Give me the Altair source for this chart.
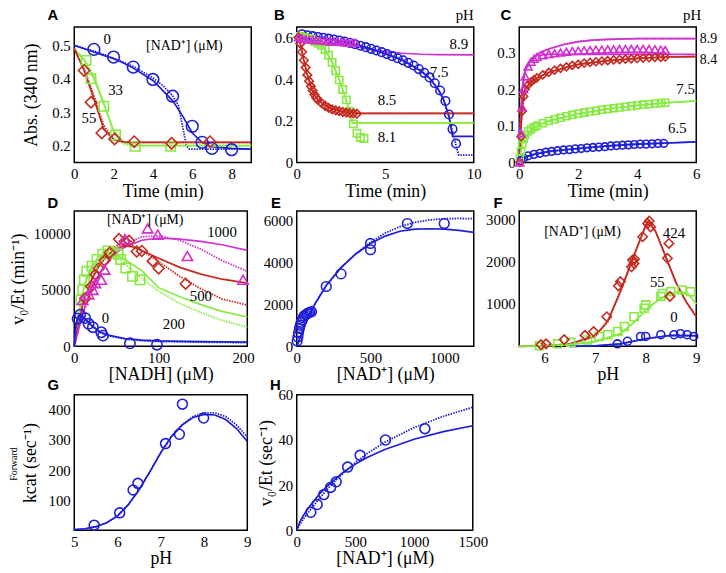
import altair as alt
import pandas as pd

BLUE = "#1f1fd8"
RED = "#c42a20"
GREEN = "#86ea42"
MAG = "#d22fd2"
SERIF = "Liberation Serif"

# ---------------- Panel A ----------------
A_blue_t = [1.0, 2.0, 3.0, 4.0, 5.0, 6.0, 6.5, 7.0, 8.0]
A_blue_abs = [0.488, 0.465, 0.435, 0.398, 0.348, 0.258, 0.21, 0.192, 0.188]
A_green_t = [0.6, 0.85, 1.5, 2.1, 3.1, 4.9]
A_green_abs = [0.455, 0.40, 0.318, 0.232, 0.198, 0.198]
A_red_t = [0.5, 0.85, 1.4, 2.05, 3.05, 4.95, 6.9]
A_red_abs = [0.425, 0.33, 0.238, 0.22, 0.212, 0.207, 0.212]
A_bfit_t = [0, 0.5, 1, 1.5, 2, 2.5, 3, 4, 5, 5.5, 6, 6.5, 7, 8, 9]
A_bfit = [0.50, 0.49, 0.48, 0.47, 0.46, 0.447, 0.432, 0.395, 0.335, 0.29, 0.238, 0.21, 0.197, 0.192, 0.19]
A_bfit2_t = [0, 1, 2, 3, 4, 4.5, 5, 5.3, 5.5, 5.7, 5.85, 7, 8, 9]
A_bfit2 = [0.50, 0.483, 0.462, 0.437, 0.403, 0.38, 0.35, 0.32, 0.26, 0.2, 0.19, 0.19, 0.19, 0.19]
A_fit_t = [0, 0.5, 1, 1.5, 2, 2.5, 3, 9]
A_gfit = [0.49, 0.455, 0.40, 0.325, 0.245, 0.21, 0.201, 0.20]
A_gfit2 = [0.49, 0.46, 0.41, 0.33, 0.24, 0.205, 0.20, 0.20]
A_rfit = [0.49, 0.425, 0.34, 0.25, 0.218, 0.211, 0.21, 0.21]
A_rfit2 = [0.49, 0.43, 0.35, 0.26, 0.22, 0.212, 0.21, 0.21]

# ---------------- Panel B ----------------
B_blue_t = [0.3, 0.6, 0.9, 1.2, 1.5, 1.8, 2.1, 2.4, 2.7, 3.0, 3.3, 3.6, 3.9, 4.2, 4.5, 4.8,
            5.1, 5.4, 5.7, 6.0, 6.3, 6.6, 6.9, 7.2, 7.5, 7.8, 8.1, 8.4, 8.6, 8.8, 9.0]
B_blue_abs = [0.615, 0.61, 0.606, 0.602, 0.598, 0.594, 0.59, 0.585, 0.58, 0.574, 0.567, 0.56,
              0.553, 0.545, 0.537, 0.529, 0.52, 0.51, 0.5, 0.49, 0.478, 0.465, 0.448, 0.43,
              0.408, 0.38, 0.345, 0.295, 0.23, 0.16, 0.09]
B_bfit_t = [0, 1, 2, 3, 4, 5, 6, 7, 7.5, 8, 8.3, 8.6, 8.75, 8.8, 10]
B_bfit = [0.62, 0.605, 0.59, 0.572, 0.55, 0.522, 0.49, 0.44, 0.405, 0.35, 0.3, 0.22, 0.15, 0.125, 0.125]
B_bfit2_t = [0, 1, 2, 3, 4, 5, 6, 7, 7.5, 8, 8.3, 8.6, 8.8, 9.0, 9.15, 10]
B_bfit2 = [0.62, 0.605, 0.59, 0.572, 0.55, 0.522, 0.49, 0.44, 0.405, 0.35, 0.3, 0.22, 0.15, 0.08, 0.035, 0.035]
B_mag_t = [0.1, 0.3, 0.5, 0.7, 0.9, 1.1, 1.3, 1.5, 1.7, 1.9, 2.1, 2.3, 2.5, 2.7, 2.9, 3.1, 3.3]
B_mag_abs = [0.6, 0.595, 0.592, 0.59, 0.588, 0.586, 0.585, 0.583, 0.582, 0.58, 0.579, 0.578,
             0.577, 0.576, 0.575, 0.575, 0.575]
B_mfit_t = [0, 0.5, 1, 2, 3, 4, 5, 6, 7, 8, 10]
B_mfit = [0.6, 0.59, 0.582, 0.57, 0.562, 0.545, 0.532, 0.524, 0.519, 0.517, 0.516]
B_red_t = [0.1, 0.2, 0.3, 0.4, 0.5, 0.6, 0.7, 0.8, 0.9, 1.0, 1.1, 1.2, 1.4, 1.6, 1.8, 2.0,
           2.2, 2.4, 2.6, 2.8, 3.0, 3.2, 3.4]
B_red_abs = [0.6, 0.57, 0.53, 0.49, 0.455, 0.42, 0.39, 0.365, 0.345, 0.325, 0.31, 0.3, 0.285,
             0.272, 0.262, 0.255, 0.25, 0.246, 0.242, 0.239, 0.237, 0.235, 0.234]
B_rfit_t = [0, 0.2, 0.4, 0.6, 0.8, 1.0, 1.2, 1.5, 2, 2.5, 3, 3.4, 10]
B_rfit = [0.6, 0.57, 0.49, 0.42, 0.365, 0.325, 0.3, 0.28, 0.257, 0.245, 0.238, 0.235, 0.235]
B_green_t = [0.2, 0.4, 0.6, 0.8, 1.0, 1.2, 1.4, 1.6, 1.8, 2.0, 2.2, 2.4, 2.6, 2.8, 3.0, 3.2, 3.4, 3.6, 3.8]
B_green_abs = [0.605, 0.6, 0.595, 0.59, 0.58, 0.572, 0.562, 0.542, 0.515, 0.48, 0.44, 0.395,
               0.35, 0.3, 0.245, 0.185, 0.14, 0.12, 0.115]
B_gfit_t = [0, 0.5, 1, 1.5, 2, 2.5, 3, 3.15, 10]
B_gfit = [0.61, 0.598, 0.58, 0.555, 0.48, 0.375, 0.245, 0.19, 0.19]

# ---------------- Panel C ----------------
C_t = [0.02, 0.06, 0.1, 0.15, 0.2, 0.3, 0.4, 0.5, 0.6, 0.8, 1.0, 1.2, 1.4, 1.6, 1.8, 2.0,
       2.2, 2.4, 2.6, 2.8, 3.0, 3.2, 3.4, 3.6, 3.8, 4.0, 4.2, 4.4, 4.6, 4.8, 4.95]
C_mag = [0.0, 0.08, 0.15, 0.2, 0.235, 0.262, 0.275, 0.283, 0.288, 0.293, 0.296, 0.298, 0.3,
         0.302, 0.304, 0.305, 0.306, 0.307, 0.308, 0.308, 0.309, 0.309, 0.31, 0.31, 0.31, 0.31,
         0.31, 0.31, 0.309, 0.308, 0.307]
C_red = [0.0, 0.07, 0.14, 0.18, 0.2, 0.212, 0.22, 0.226, 0.231, 0.239, 0.246, 0.252, 0.257,
         0.261, 0.265, 0.268, 0.271, 0.273, 0.275, 0.277, 0.278, 0.28, 0.281, 0.282, 0.283,
         0.284, 0.285, 0.286, 0.287, 0.287, 0.288]
C_green = [0.01, 0.03, 0.05, 0.065, 0.075, 0.085, 0.091, 0.096, 0.1, 0.107, 0.113, 0.118,
           0.122, 0.126, 0.13, 0.133, 0.136, 0.139, 0.141, 0.144, 0.146, 0.148, 0.15, 0.152,
           0.154, 0.156, 0.158, 0.159, 0.161, 0.162, 0.163]
C_blue_t = [0.05, 0.15, 0.3, 0.5, 0.7, 0.9, 1.1, 1.3, 1.5, 1.7, 1.9, 2.1, 2.3, 2.5, 2.7, 2.9,
            3.1, 3.3, 3.5, 3.7, 3.9, 4.1, 4.3, 4.5, 4.7, 4.9]
C_blue = [0.005, 0.012, 0.018, 0.022, 0.025, 0.028, 0.03, 0.032, 0.034, 0.035, 0.037, 0.038,
          0.04, 0.041, 0.042, 0.043, 0.045, 0.046, 0.047, 0.048, 0.049, 0.05, 0.05, 0.051,
          0.052, 0.052]
C_mfit_t = [0, 0.05, 0.1, 0.2, 0.4, 0.7, 1, 1.5, 2, 2.5, 3, 4, 6]
C_mfit = [0, 0.12, 0.2, 0.25, 0.28, 0.3, 0.31, 0.322, 0.33, 0.334, 0.336, 0.338, 0.338]
C_mfit2_t = [0, 0.05, 0.1, 0.2, 0.4, 0.6, 1, 6]
C_mfit2 = [0, 0.12, 0.2, 0.255, 0.283, 0.292, 0.295, 0.295]
C_rfit_t = [0, 0.05, 0.1, 0.2, 0.4, 0.7, 1, 1.5, 2, 3, 4, 5, 6]
C_rfit = [0, 0.08, 0.15, 0.2, 0.22, 0.235, 0.246, 0.258, 0.268, 0.278, 0.284, 0.288, 0.289]
C_gfit_t = [0, 0.1, 0.2, 0.5, 1, 2, 3, 4, 5, 6]
C_gfit = [0, 0.05, 0.07, 0.095, 0.113, 0.133, 0.146, 0.156, 0.163, 0.168]
C_bfit_t = [0, 0.2, 0.5, 1, 2, 3, 4, 5, 6]
C_bfit = [0, 0.015, 0.022, 0.03, 0.038, 0.045, 0.05, 0.053, 0.056]

# ---------------- Panel D ----------------
D_blue_x = [4, 7, 13, 17, 22, 32, 34, 66, 98]
D_blue_y = [2450, 2800, 2500, 2000, 1700, 1250, 950, 270, 150]
D_green_x = [8, 10, 12, 15, 21, 27, 34, 40, 46, 52, 55, 61, 69, 78]
D_green_y = [4100, 5000, 5900, 6650, 7100, 7700, 8150, 8450, 8300, 8150, 7700, 6950, 6200, 5900]
D_red_x = [13, 20, 25, 29, 36, 42, 53, 60, 65, 74, 80, 93, 100, 132]
D_red_y = [4250, 5300, 6350, 6900, 7600, 8300, 9500, 9300, 9350, 8400, 8450, 7550, 6900, 5550]
D_mag_x = [10, 17, 22, 25, 32, 36, 60, 87, 99, 134, 200]
D_mag_y = [4100, 4600, 5000, 5600, 5900, 6800, 9500, 10450, 9900, 8000, 5900]
D_gfit_x = [0, 5, 10, 15, 20, 30, 40, 50, 60, 80, 100, 125, 150, 175, 205]
D_gfit = [0, 2700, 4700, 6000, 6900, 7900, 8200, 8100, 7700, 6700, 5200, 4400, 3700, 3100, 2600]
D_gfit2 = [0, 2700, 4800, 6200, 7100, 8100, 8300, 8000, 7300, 6000, 4900, 3800, 3000, 2300, 1700]
D_rfit_x = [0, 10, 20, 30, 40, 50, 60, 70, 80, 100, 125, 150, 175, 205]
D_rfit = [0, 3700, 5800, 7200, 8100, 8700, 8900, 8800, 8500, 7800, 7000, 6400, 5950, 5600]
D_rfit2 = [0, 3700, 5900, 7400, 8400, 8900, 9100, 8900, 8500, 7500, 6200, 5100, 4200, 3650]
D_mfit_x = [0, 10, 20, 30, 40, 50, 60, 80, 100, 125, 150, 175, 205]
D_mfit = [0, 3000, 5000, 6500, 7500, 8300, 8800, 9400, 9600, 9500, 9300, 9000, 8500]
D_mfit2 = [0, 2800, 4800, 6400, 7600, 8500, 9100, 9700, 9800, 9400, 8600, 7600, 6650]
D_bfit_x = [0, 2, 5, 8, 12, 20, 30, 40, 60, 80, 100, 150, 205]
D_bfit = [0, 2000, 2700, 2800, 2500, 1900, 1300, 1000, 700, 550, 480, 420, 380]
D_bfit2 = [0, 1900, 2650, 2750, 2450, 1850, 1250, 950, 650, 500, 430, 370, 330]

# ---------------- Panel E ----------------
E_x = [3, 8, 12, 18, 24, 30, 36, 42, 50, 60, 70, 80, 90, 100, 200, 300, 500, 500, 750, 1000]
E_y = [250, 450, 650, 850, 1000, 1150, 1250, 1350, 1450, 1500, 1550, 1600, 1620, 1650,
       2850, 3450, 4600, 4900, 5850, 5850]
E_fit_x = [0, 50, 100, 200, 300, 400, 500, 600, 700, 800, 900, 1000, 1100, 1200]
E_fit = [0, 950, 1750, 2900, 3750, 4400, 4900, 5250, 5480, 5580, 5600, 5580, 5520, 5430]
E_fit2 = [0, 950, 1750, 2900, 3750, 4400, 4950, 5400, 5700, 5900, 6020, 6080, 6090, 6080]

# ---------------- Panel F ----------------
F_red_x = [5.93, 6.03, 6.39, 6.8, 6.97, 7.23, 7.46, 7.5, 7.72, 7.74, 7.77, 7.78, 7.94, 8.04,
           8.07, 8.1, 8.43, 8.46, 8.48]
F_red_y = [40, 60, 160, 260, 350, 700, 1430, 1530, 1880, 2040, 1960, 2060, 2590, 2900, 2960,
           2820, 2080, 2430, 1180]
F_green_x = [5.9, 6.26, 6.52, 6.85, 7.08, 7.25, 7.45, 7.58, 7.77, 7.97, 8.0, 8.3, 8.33, 8.5, 8.72, 8.89]
F_green_y = [15, 60, 95, 150, 235, 275, 350, 470, 700, 900, 980, 1180, 1250, 1290, 1330, 1290]
F_blue_x = [7.44, 7.64, 7.9, 8.0, 8.3, 8.56, 8.69, 8.82, 8.95]
F_blue_y = [60, 120, 235, 235, 275, 275, 300, 275, 235]
F_rfit_x = [5.5, 6, 6.5, 7, 7.25, 7.5, 7.75, 8, 8.05, 8.2, 8.4, 8.6, 8.8, 9]
F_rfit = [0, 15, 60, 250, 600, 1300, 2100, 2850, 2950, 2700, 2100, 1500, 1050, 700]
F_rfit2 = [0, 10, 50, 230, 580, 1280, 2080, 2850, 2970, 2720, 2120, 1520, 1060, 720]
F_gfit_x = [5.5, 6, 6.5, 7, 7.5, 7.75, 8, 8.25, 8.5, 8.7, 8.85, 9]
F_gfit = [5, 15, 40, 110, 300, 550, 850, 1100, 1250, 1290, 1230, 1000]
F_bfit_x = [6.5, 7, 7.5, 8, 8.5, 9]
F_bfit = [0, 10, 60, 180, 260, 250]

# ---------------- Panel G ----------------
G_x = [5.46, 6.05, 6.36, 6.47, 7.11, 7.43, 7.5, 7.99]
G_y = [17, 58, 134, 156, 288, 319, 419, 373]
G_fit_x = [5, 5.25, 5.5, 5.75, 6, 6.25, 6.5, 6.75, 7, 7.25, 7.5, 7.75, 8, 8.25, 8.5, 8.75, 9]
G_fit = [2, 5, 12, 25, 48, 85, 135, 195, 258, 312, 350, 375, 385, 383, 368, 338, 295]
G_fit2 = [2, 5, 12, 25, 48, 85, 135, 195, 258, 312, 352, 378, 390, 390, 378, 350, 310]

# ---------------- Panel H ----------------
H_x = [120, 174, 230, 288, 336, 434, 540, 756, 1092]
H_y = [8, 11.4, 15.8, 19, 21.5, 28, 33.2, 40, 45]
H_fit_x = [0, 25, 50, 100, 200, 300, 400, 500, 600, 750, 1000, 1250, 1500]
H_fit = [0, 3.5, 6, 10, 16.5, 21.5, 25.8, 29.3, 32.2, 35.8, 40.3, 43.7, 46.3]
H_fit2 = [0, 2.5, 4.5, 8, 14.5, 20.5, 25.5, 30, 34, 39, 45.5, 50.5, 54.5]


def df(xs, ys):
    return pd.DataFrame({"x": xs, "y": ys})


def label(txt, px, py, align="left", font=SERIF, size=15, weight="normal", angle=0):
    return alt.Chart(pd.DataFrame({"t": [txt]})).mark_text(
        font=font, fontSize=size, fontWeight=weight, color="black", align=align,
        baseline="alphabetic", angle=angle
    ).encode(x=alt.value(px), y=alt.value(py), text="t:N")


def panel(series, texts, xdom, ydom, xaxis, yaxis, w, h, extras):
    X = alt.X("x:Q", scale=alt.Scale(domain=xdom, nice=False, zero=False), axis=xaxis)
    Y = alt.Y("y:Q", scale=alt.Scale(domain=ydom, nice=False, zero=False), axis=yaxis)
    layers = []
    for s in series:
        kind, xs, ys, color = s[0], s[1], s[2], s[3]
        base = alt.Chart(df(xs, ys))
        if kind == "solid":
            m = base.mark_line(strokeWidth=1.7)
        elif kind == "dot":
            m = base.mark_line(strokeWidth=1.8, strokeDash=[1.5, 1.2])
        else:
            m = base.mark_point(shape=kind, filled=False, size=s[4], strokeWidth=1.6, opacity=1)
        layers.append(m.encode(color=alt.value(color)))
    for t in texts:
        txt, tx, ty, align, size = t
        layers.append(
            alt.Chart(pd.DataFrame({"x": [tx], "y": [ty], "t": [txt]}))
            .mark_text(font=SERIF, fontSize=size, color="black", align=align, baseline="middle")
            .encode(text="t:N")
        )
    layers.extend(extras)
    return alt.layer(*layers).encode(x=X, y=Y).properties(width=w, height=h)


def ax(values, fmt, title=None, pad=1):
    return alt.Axis(values=values, format=fmt, labelOverlap=False, labelFlush=False,
                    titlePadding=pad, title=title, titleFont=SERIF, titleFontSize=18,
                    titleFontWeight="normal", titleColor="black",
                    labelFont=SERIF, labelFontSize=15, labelFontWeight="normal")


def letter(ch, dx, dy):
    return label(ch, dx, dy, font="Liberation Sans", size=15, weight="bold")


A = panel(
    [("solid", A_bfit_t, A_bfit, BLUE), ("dot", A_bfit2_t, A_bfit2, BLUE),
     ("solid", A_fit_t, A_gfit, GREEN), ("dot", A_fit_t, A_gfit2, GREEN),
     ("solid", A_fit_t, A_rfit, RED), ("dot", A_fit_t, A_rfit2, RED),
     ("circle", A_blue_t, A_blue_abs, BLUE, 140),
     ("square", A_green_t, A_green_abs, GREEN, 90),
     ("diamond", A_red_t, A_red_abs, RED, 130)],
    [("0", 1.67, 0.52, "center", 15), ("[NAD⁺] (μM)", 5.6, 0.497, "center", 14),
     ("33", 2.1, 0.366, "center", 15), ("55", 0.75, 0.284, "center", 15)],
    [0, 9], [0.15, 0.555],
    ax([0, 2, 4, 6, 8], "d", "Time (min)"), ax([0.2, 0.3, 0.4, 0.5], ".1f", "Abs. (340 nm)", 11),
    179, 137, [letter("A", -27, -7)])

B = panel(
    [("solid", B_mfit_t, B_mfit, MAG),
     ("solid", B_bfit_t, B_bfit, BLUE), ("dot", B_bfit2_t, B_bfit2, BLUE),
     ("solid", B_rfit_t, B_rfit, RED), ("dot", B_rfit_t, B_rfit, RED),
     ("solid", B_gfit_t, B_gfit, GREEN), ("dot", B_gfit_t, B_gfit, GREEN),
     ("circle", B_blue_t, B_blue_abs, BLUE, 75),
     ("square", B_green_t, B_green_abs, GREEN, 55),
     ("diamond", B_red_t, B_red_abs, RED, 75),
     ("triangle-up", B_mag_t, B_mag_abs, MAG, 60)],
    [("8.9", 9.16, 0.57, "center", 15), ("7.5", 8.04, 0.432, "center", 15),
     ("8.5", 5.1, 0.297, "center", 15), ("8.1", 5.1, 0.122, "center", 15)],
    [0, 10], [0, 0.65],
    ax([0, 5, 10], "d", "Time (min)"), ax([0, 0.2, 0.4, 0.6], "~g"),
    179, 137, [letter("B", -23, -7), label("pH", 179, -7, align="right")])

C = panel(
    [("solid", C_mfit_t, C_mfit, MAG), ("dot", C_mfit_t, C_mfit, MAG),
     ("solid", C_mfit2_t, C_mfit2, MAG),
     ("solid", C_rfit_t, C_rfit, RED), ("dot", C_rfit_t, C_rfit, RED),
     ("solid", C_gfit_t, C_gfit, GREEN), ("dot", C_gfit_t, C_gfit, GREEN),
     ("solid", C_bfit_t, C_bfit, BLUE), ("dot", C_bfit_t, C_bfit, BLUE),
     ("circle", C_blue_t, C_blue, BLUE, 60),
     ("square", C_t, C_green, GREEN, 50),
     ("diamond", C_t, C_red, RED, 65),
     ("triangle-up", C_t, C_mag, MAG, 65)],
    [("8.9", 6.12, 0.338, "left", 14), ("8.4", 6.12, 0.28, "left", 14),
     ("7.5", 5.64, 0.2, "center", 15), ("6.5", 5.36, 0.093, "center", 15)],
    [0, 6], [0, 0.37],
    ax([0, 2, 4, 6], "d", "Time (min)"), ax([0, 0.1, 0.2, 0.3], "~g"),
    179, 137, [letter("C", -19, -7), label("pH", 184, -7, align="right")])

D = panel(
    [("solid", D_gfit_x, D_gfit, GREEN), ("dot", D_gfit_x, D_gfit2, GREEN),
     ("solid", D_rfit_x, D_rfit, RED), ("dot", D_rfit_x, D_rfit2, RED),
     ("solid", D_mfit_x, D_mfit, MAG), ("dot", D_mfit_x, D_mfit2, MAG),
     ("solid", D_bfit_x, D_bfit, BLUE), ("dot", D_bfit_x, D_bfit2, BLUE),
     ("circle", D_blue_x, D_blue_y, BLUE, 110),
     ("square", D_green_x, D_green_y, GREEN, 90),
     ("diamond", D_red_x, D_red_y, RED, 120),
     ("triangle-up", D_mag_x, D_mag_y, MAG, 110)],
    [("[NAD⁺] (μM)", 84, 11230, "center", 14), ("1000", 175, 10150, "center", 15),
     ("500", 150, 4460, "center", 15), ("200", 118, 1950, "center", 15),
     ("0", 37, 2545, "center", 15)],
    [0, 205], [0, 12000],
    ax([0, 100, 200], "d", "[NADH] (μM)"), ax([0, 5000, 10000], "d", "v₀/Et (min⁻¹)", 6),
    175, 137, [letter("D", -27, -3)])

E = panel(
    [("solid", E_fit_x, E_fit, BLUE), ("dot", E_fit_x, E_fit2, BLUE),
     ("circle", E_x, E_y, BLUE, 95)],
    [],
    [0, 1200], [0, 6450],
    ax([0, 500, 1000], "d", "[NAD⁺] (μM)"), ax([0, 2000, 4000, 6000], "d"),
    179, 137, [letter("E", -26, -3)])

F = panel(
    [("solid", F_rfit_x, F_rfit, RED), ("dot", F_rfit_x, F_rfit2, RED),
     ("solid", F_gfit_x, F_gfit, GREEN), ("dot", F_gfit_x, F_gfit, GREEN),
     ("solid", F_bfit_x, F_bfit, BLUE), ("dot", F_bfit_x, F_bfit, BLUE),
     ("circle", F_blue_x, F_blue_y, BLUE, 65),
     ("square", F_green_x, F_green_y, GREEN, 65),
     ("diamond", F_red_x, F_red_y, RED, 90)],
    [("[NAD⁺] (μM)", 6.75, 2700, "center", 14), ("424", 8.56, 2670, "center", 15),
     ("55", 8.23, 1530, "center", 15), ("0", 8.56, 690, "center", 15)],
    [5.5, 9], [0, 3200],
    ax([6, 7, 8, 9], "d", "pH"), ax([1000, 2000, 3000], "d"),
    179, 137, [letter("F", -26, -3)])

G = panel(
    [("solid", G_fit_x, G_fit, BLUE), ("dot", G_fit_x, G_fit2, BLUE),
     ("circle", G_x, G_y, BLUE, 100)],
    [],
    [5, 9], [0, 450],
    ax([5, 6, 7, 8, 9], "d", "pH"), ax([100, 200, 300, 400], "d", "kcat (sec⁻¹)", 9),
    175, 137, [letter("G", -27, -5),
               label("Forward", -58, 70, align="center", size=10, angle=270)])

H = panel(
    [("solid", H_fit_x, H_fit, BLUE), ("dot", H_fit_x, H_fit2, BLUE),
     ("circle", H_x, H_y, BLUE, 100)],
    [],
    [0, 1500], [0, 60],
    ax([0, 500, 1000, 1500], "d", "[NAD⁺] (μM)"), ax([0, 20, 40, 60], "d", "v₀/Et (sec⁻¹)", 3),
    178, 137, [letter("H", -27, -5)])

chart = alt.concat(
    A, B, C, D, E, F, G, H, columns=3, spacing={"row": 49, "column": 46}, bounds="flush"
).properties(
    padding={"top": -4, "left": 0, "right": 0, "bottom": 0}
).configure_axis(
    labelFont=SERIF, labelFontSize=15, labelColor="black",
    titleFont=SERIF, titleFontSize=18, titleFontWeight="normal", titleColor="black",
    grid=False, domain=False, ticks=False, labelPadding=4
).configure_view(stroke="black", strokeWidth=1.5)

chart.save("out.html", embed_options={"renderer": "svg", "actions": False})
